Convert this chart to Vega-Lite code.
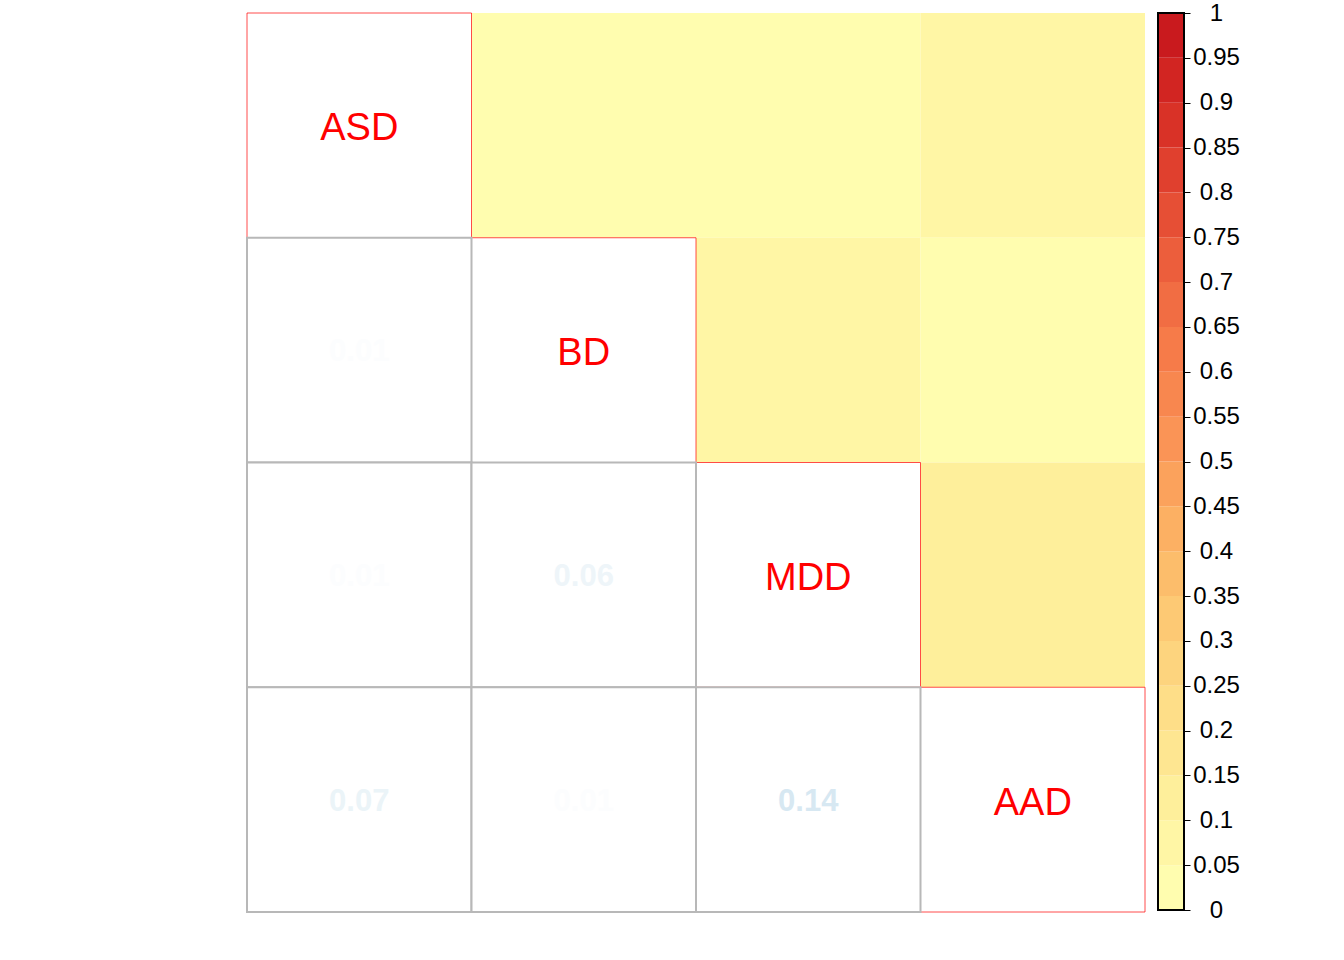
{
  "$schema": "https://vega.github.io/schema/vega-lite/v6.json",
  "background": "white",
  "padding": {"left": 246, "top": 1, "right": 5, "bottom": 5},
  "config": {"font": "Liberation Sans", "view": {"stroke": null}},
  "spacing": 11,
  "datasets": {
    "cells": [
      {"r": "ASD", "c": "ASD", "v": 1, "part": "diag"},
      {"r": "BD", "c": "BD", "v": 1, "part": "diag"},
      {"r": "MDD", "c": "MDD", "v": 1, "part": "diag"},
      {"r": "AAD", "c": "AAD", "v": 1, "part": "diag"},
      {"r": "ASD", "c": "BD", "v": 0.01, "part": "upper"},
      {"r": "ASD", "c": "MDD", "v": 0.01, "part": "upper"},
      {"r": "ASD", "c": "AAD", "v": 0.07, "part": "upper"},
      {"r": "BD", "c": "MDD", "v": 0.06, "part": "upper"},
      {"r": "BD", "c": "AAD", "v": 0.01, "part": "upper"},
      {"r": "MDD", "c": "AAD", "v": 0.14, "part": "upper"},
      {"r": "BD", "c": "ASD", "v": 0.01, "part": "lower"},
      {"r": "MDD", "c": "ASD", "v": 0.01, "part": "lower"},
      {"r": "AAD", "c": "ASD", "v": 0.07, "part": "lower"},
      {"r": "MDD", "c": "BD", "v": 0.06, "part": "lower"},
      {"r": "AAD", "c": "BD", "v": 0.01, "part": "lower"},
      {"r": "AAD", "c": "MDD", "v": 0.14, "part": "lower"}
    ],
    "bins": [
      {"lo": 0, "hi": 0.05}, {"lo": 0.05, "hi": 0.1}, {"lo": 0.1, "hi": 0.15}, {"lo": 0.15, "hi": 0.2},
      {"lo": 0.2, "hi": 0.25}, {"lo": 0.25, "hi": 0.3}, {"lo": 0.3, "hi": 0.35}, {"lo": 0.35, "hi": 0.4},
      {"lo": 0.4, "hi": 0.45}, {"lo": 0.45, "hi": 0.5}, {"lo": 0.5, "hi": 0.55}, {"lo": 0.55, "hi": 0.6},
      {"lo": 0.6, "hi": 0.65}, {"lo": 0.65, "hi": 0.7}, {"lo": 0.7, "hi": 0.75}, {"lo": 0.75, "hi": 0.8},
      {"lo": 0.8, "hi": 0.85}, {"lo": 0.85, "hi": 0.9}, {"lo": 0.9, "hi": 0.95}, {"lo": 0.95, "hi": 1}
    ],
    "frame": [{"lo": 0, "hi": 1}]
  },
  "hconcat": [
    {
      "width": 898,
      "height": 899,
      "data": {"name": "cells"},
      "encoding": {
        "x": {"field": "c", "type": "nominal", "sort": ["ASD", "BD", "MDD", "AAD"], "axis": null, "scale": {"paddingInner": 0, "paddingOuter": 0}},
        "y": {"field": "r", "type": "nominal", "sort": ["ASD", "BD", "MDD", "AAD"], "axis": null, "scale": {"paddingInner": 0, "paddingOuter": 0}}
      },
      "layer": [
        {
          "transform": [{"filter": "datum.part == 'upper'"}],
          "mark": {"type": "rect"},
          "encoding": {
            "fill": {
              "field": "v", "type": "quantitative", "legend": null,
              "scale": {
                "type": "threshold",
                "domain": [0.05, 0.1, 0.15, 0.2, 0.25, 0.3, 0.35, 0.4, 0.45, 0.5, 0.55, 0.6, 0.65, 0.7, 0.75, 0.8, 0.85, 0.9, 0.95],
                "range": ["#FFFDAF", "#FFF6A5", "#FEEF9B", "#FEE691", "#FEDE88", "#FDD47E", "#FDC974", "#FCBD6B", "#FCB063", "#FBA25C", "#FA9456", "#F8874F", "#F67B49", "#F16D43", "#EC5E3C", "#E64F35", "#E0402E", "#D93227", "#D22522", "#C91A1E"]
              }
            }
          }
        },
        {
          "transform": [{"filter": "datum.part == 'diag'"}],
          "mark": {"type": "rect", "fill": "white", "stroke": "#FF0000", "strokeOpacity": 0.7, "strokeWidth": 1}
        },
        {
          "transform": [{"filter": "datum.part == 'lower'"}],
          "mark": {"type": "rect", "fill": "white", "stroke": "#B8B8B8", "strokeWidth": 2}
        },
        {
          "transform": [{"filter": "datum.part == 'diag'"}],
          "mark": {"type": "text", "fontSize": 38, "color": "#FF0000", "dy": 4},
          "encoding": {"text": {"field": "r", "type": "nominal"}}
        },
        {
          "transform": [{"filter": "datum.part == 'lower'"}],
          "mark": {"type": "text", "fontSize": 31, "fontWeight": "bold", "dy": 2},
          "encoding": {
            "text": {"field": "v", "type": "quantitative", "format": ".2f"},
            "color": {
              "field": "v", "type": "quantitative", "legend": null,
              "scale": {"type": "linear", "domain": [0, 0.16, 0.4, 0.6, 0.8, 1], "range": ["#FFFFFF", "#D1E5F0", "#92C5DE", "#4393C3", "#2166AC", "#053061"], "interpolate": "rgb"}
            }
          }
        }
      ]
    },
    {
      "width": 26,
      "height": 897,
      "encoding": {
        "y": {
          "field": "lo", "type": "quantitative", "scale": {"domain": [0, 1], "nice": false, "zero": false},
          "axis": {
            "orient": "right", "title": null, "grid": false, "domain": false,
            "values": [0, 0.05, 0.1, 0.15, 0.2, 0.25, 0.3, 0.35, 0.4, 0.45, 0.5, 0.55, 0.6, 0.65, 0.7, 0.75, 0.8, 0.85, 0.9, 0.95, 1],
            "labelExpr": "format(datum.value, '~g')",
            "tickColor": "black", "tickSize": 6, "tickWidth": 1,
            "labelColor": "black", "labelFontSize": 24, "labelAlign": "center", "labelPadding": 26,
            "labelFont": "Liberation Sans", "labelOverlap": false, "labelBound": false, "labelFlush": false
          }
        },
        "y2": {"field": "hi"}
      },
      "layer": [
        {
          "data": {"name": "bins"},
          "mark": {"type": "rect"},
          "encoding": {
            "fill": {
              "field": "lo", "type": "quantitative", "legend": null,
              "scale": {
                "type": "threshold",
                "domain": [0.05, 0.1, 0.15, 0.2, 0.25, 0.3, 0.35, 0.4, 0.45, 0.5, 0.55, 0.6, 0.65, 0.7, 0.75, 0.8, 0.85, 0.9, 0.95],
                "range": ["#FFFDAF", "#FFF6A5", "#FEEF9B", "#FEE691", "#FEDE88", "#FDD47E", "#FDC974", "#FCBD6B", "#FCB063", "#FBA25C", "#FA9456", "#F8874F", "#F67B49", "#F16D43", "#EC5E3C", "#E64F35", "#E0402E", "#D93227", "#D22522", "#C91A1E"]
              }
            }
          }
        },
        {
          "data": {"name": "frame"},
          "mark": {"type": "rect", "fill": null, "fillOpacity": 0, "stroke": "black", "strokeWidth": 2}
        }
      ]
    }
  ]
}
